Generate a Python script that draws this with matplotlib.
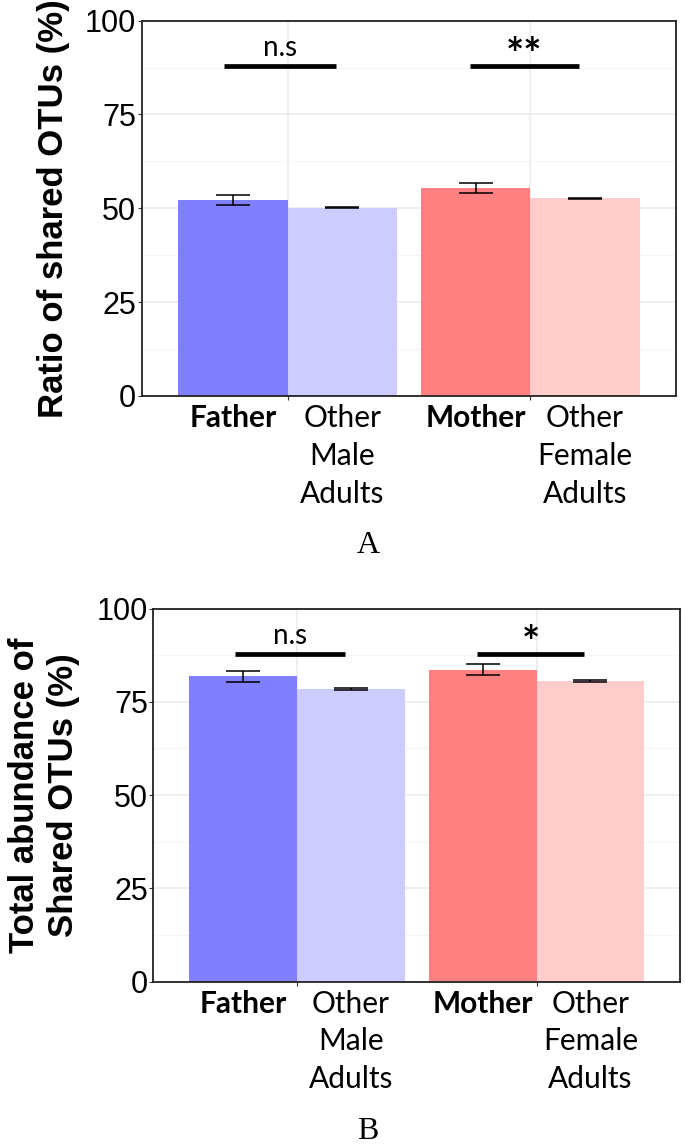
import numpy as np
import matplotlib
matplotlib.use("Agg")
import matplotlib.pyplot as plt
from matplotlib import font_manager
from matplotlib.transforms import blended_transform_factory

# bar groups (left bar = parent, right bar = other adults)
bar_x = [0.775, 1.225, 1.775, 2.225]
group_x = [1, 2]
bar_labels = ["Father", "Other\nMale\nAdults", "Mother", "Other\nFemale\nAdults"]
label_bold = [True, False, True, False]
bar_colors = ["#8080FF", "#CCCCFF", "#FF8080", "#FFCCCC"]

# panel A: ratio of shared OTUs
ratio_mean = [52.2, 50.2, 55.5, 52.7]
ratio_se = [1.45, 0.2, 1.35, 0.15]
ratio_sig = ["n.s", "**"]

# panel B: total abundance of shared OTUs
abund_mean = [81.8, 78.5, 83.6, 80.6]
abund_se = [1.5, 0.3, 1.5, 0.3]
abund_sig = ["n.s", "*"]

sig_y = 87.8
sig_span = [(0.74, 1.2), (1.75, 2.2)]

installed = {f.name for f in font_manager.fontManager.ttflist}
label_font = "Lato" if "Lato" in installed else "DejaVu Sans"
tick_font = "Liberation Sans" if "Liberation Sans" in installed else "DejaVu Sans"


def draw_panel(ax, means, ses, sigs, ylabel, ylabel_x, tag):
    ax.set_xlim(0.4, 2.6)
    ax.set_ylim(0, 100)
    ax.set_axisbelow(True)

    ax.bar(bar_x, means, width=0.45, color=bar_colors, zorder=2)
    ax.errorbar(bar_x, means, yerr=ses, fmt="none", ecolor="black",
                elinewidth=1.1, capsize=12, capthick=1.1, zorder=3)

    # grid like theme_bw
    ax.set_yticks([0, 25, 50, 75, 100])
    ax.set_yticks([12.5, 37.5, 62.5, 87.5], minor=True)
    ax.set_xticks(group_x)
    ax.set_xticklabels(["", ""])
    ax.grid(True, which="major", color="#EBEBEB", linewidth=1.1)
    ax.grid(True, which="minor", axis="y", color="#F5F5F5", linewidth=0.8)
    ax.tick_params(axis="y", which="minor", length=0)
    ax.tick_params(axis="both", which="major", length=3, width=0.8,
                   color="#333333")
    for lab in ax.get_yticklabels():
        lab.set_fontfamily(tick_font)
        lab.set_fontsize(22)
        lab.set_color("black")
    ax.tick_params(axis="y", pad=1)
    for sp in ax.spines.values():
        sp.set_color("#222222")
        sp.set_linewidth(1.3)

    # significance bars
    for (x0, x1), s in zip(sig_span, sigs):
        ax.plot([x0, x1], [sig_y, sig_y], color="black", lw=3.4,
                solid_capstyle="butt", zorder=4)
        if s == "n.s":
            ax.text((x0 + x1) / 2, 90.6, s, ha="center", va="baseline",
                    fontsize=20, family=label_font)
        else:
            ax.text((x0 + x1) / 2, 87.0, s, ha="center", va="baseline",
                    fontsize=31, family=label_font, fontweight="bold")

    # category labels under the bars
    trans = blended_transform_factory(ax.transData, ax.transAxes)
    for x, lab, b in zip(bar_x, bar_labels, label_bold):
        ax.text(x, -0.022, lab, transform=trans, ha="center", va="top",
                fontsize=21.5, family=label_font,
                fontweight="bold" if b else "normal", linespacing=1.42)

    fig = ax.figure
    fig.text(ylabel_x, (ax.get_position().y0 + ax.get_position().y1) / 2,
             ylabel, rotation=90, ha="center", va="center", fontsize=25,
             fontweight="bold", family=tick_font, linespacing=1.25)
    pos = ax.get_position()
    fig.text(368 / 685, pos.y0 - 150 / 1146, tag, ha="center", va="center",
             fontsize=23, family="Liberation Serif")


fig = plt.figure(figsize=(6.85, 11.46), dpi=100)
ax_a = fig.add_axes([0.207, 0.6545, 0.78, 0.3275])
ax_b = fig.add_axes([0.224, 0.1435, 0.769, 0.3255])

draw_panel(ax_a, ratio_mean, ratio_se, ratio_sig,
           "Ratio of shared OTUs (%)", 54 / 685, "A")
draw_panel(ax_b, abund_mean, abund_se, abund_sig,
           "Total abundance of\nShared OTUs (%)", 44 / 685, "B")

fig.savefig("out.png", dpi=100)
